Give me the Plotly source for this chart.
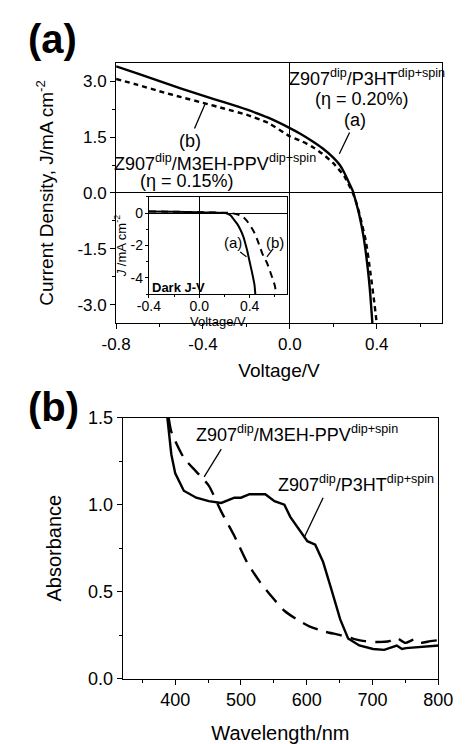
import plotly.graph_objects as go

FONT = "Arial, Liberation Sans, sans-serif"

# ---- Panel (a): J-V under illumination ----
jv_v_a = [-0.8, -0.7, -0.6, -0.5, -0.4, -0.3, -0.2, -0.1, 0.0, 0.05, 0.1, 0.15, 0.2, 0.23, 0.25, 0.27, 0.29, 0.30, 0.32, 0.34, 0.36, 0.37, 0.38]
jv_j_a = [3.40, 3.20, 3.00, 2.80, 2.61, 2.43, 2.24, 2.02, 1.74, 1.58, 1.40, 1.20, 0.95, 0.75, 0.55, 0.30, 0.05, -0.15, -0.6, -1.2, -2.1, -2.7, -3.5]
jv_v_b = [-0.8, -0.7, -0.6, -0.5, -0.4, -0.3, -0.2, -0.1, 0.0, 0.05, 0.1, 0.15, 0.2, 0.25, 0.28, 0.30, 0.32, 0.35, 0.37, 0.39, 0.40]
jv_j_b = [3.06, 2.90, 2.73, 2.57, 2.42, 2.26, 2.10, 1.88, 1.52, 1.40, 1.25, 1.05, 0.80, 0.45, 0.12, -0.15, -0.55, -1.3, -2.1, -3.0, -3.5]

# ---- Inset: dark J-V ----
dk_v_a = [-0.4, -0.2, 0.0, 0.1, 0.2, 0.225, 0.25, 0.275, 0.3, 0.325, 0.35, 0.363, 0.38, 0.4, 0.42, 0.438, 0.445]
dk_j_a = [0.1, 0.08, 0.05, 0.03, 0.0, -0.04, -0.15, -0.4, -0.65, -1.0, -1.45, -1.8, -2.3, -3.0, -3.7, -4.4, -5.0]
dk_v_b = [-0.4, -0.2, 0.0, 0.1, 0.2, 0.25, 0.3, 0.35, 0.38, 0.413, 0.44, 0.463, 0.5, 0.538, 0.575, 0.6, 0.612]
dk_j_b = [0.1, 0.08, 0.05, 0.03, 0.02, 0.0, -0.08, -0.25, -0.5, -0.88, -1.25, -1.68, -2.48, -3.08, -3.88, -4.48, -5.0]

# ---- Panel (b): absorbance ----
wl_p3ht = [388, 394, 400, 413, 432, 451, 470, 490, 500, 513, 528, 537, 551, 566, 575, 590, 601, 613, 625, 637, 651, 663, 680, 701, 718, 737, 745, 751, 770, 785, 801]
ab_p3ht = [1.50, 1.29, 1.18, 1.08, 1.04, 1.02, 1.01, 1.04, 1.04, 1.06, 1.06, 1.06, 1.02, 1.00, 0.93, 0.85, 0.79, 0.77, 0.67, 0.52, 0.34, 0.23, 0.19, 0.17, 0.165, 0.19, 0.17, 0.175, 0.18, 0.185, 0.19]
wl_meh = [390, 394, 413, 432, 451, 470, 490, 509, 528, 547, 566, 585, 604, 627, 651, 670, 689, 707, 726, 736, 750, 764, 773, 788, 800]
ab_meh = [1.50, 1.42, 1.27, 1.19, 1.11, 0.96, 0.82, 0.67, 0.56, 0.47, 0.39, 0.34, 0.30, 0.27, 0.25, 0.23, 0.215, 0.21, 0.215, 0.235, 0.205, 0.225, 0.205, 0.215, 0.22]

x_ticks_a = [-0.8, -0.4, 0.0, 0.4]
y_ticks_a = [-3.0, -1.5, 0.0, 1.5, 3.0]
x_ticks_in = [-0.4, 0.0, 0.4]
y_ticks_in = [-4, -2, 0]
x_ticks_b = [400, 500, 600, 700, 800]
y_ticks_b = [0.0, 0.5, 1.0, 1.5]

W, H = 470, 744
def dx(a, b):
    return [a / W, b / W]
def dy(top, bottom):
    return [1 - bottom / H, 1 - top / H]

fig = go.Figure()
LW = 2.4
fig.add_trace(go.Scatter(x=jv_v_a, y=jv_j_a, mode="lines", line=dict(color="black", width=LW, shape="spline", smoothing=0.6), xaxis="x", yaxis="y", showlegend=False))
fig.add_trace(go.Scatter(x=jv_v_b, y=jv_j_b, mode="lines", line=dict(color="black", width=LW, dash="5px,4px", shape="spline", smoothing=0.6), xaxis="x", yaxis="y", showlegend=False))
fig.add_trace(go.Scatter(x=dk_v_a, y=dk_j_a, mode="lines", line=dict(color="black", width=2, shape="spline", smoothing=0.6), xaxis="x3", yaxis="y3", showlegend=False))
fig.add_trace(go.Scatter(x=dk_v_b, y=dk_j_b, mode="lines", line=dict(color="black", width=2, dash="7px,5px", shape="spline", smoothing=0.6), xaxis="x3", yaxis="y3", showlegend=False))
fig.add_trace(go.Scatter(x=wl_p3ht, y=ab_p3ht, mode="lines", line=dict(color="black", width=LW), xaxis="x2", yaxis="y2", showlegend=False))
fig.add_trace(go.Scatter(x=wl_meh, y=ab_meh, mode="lines", line=dict(color="black", width=LW, dash="16px,9px", shape="spline", smoothing=0.6), xaxis="x2", yaxis="y2", showlegend=False))

def axis(domain, rng, tickvals, fmt, fsize, minor_dtick, anchor, title, tfsize, standoff, zeroline, ticklen=5, minorlen=3, lblstand=0):
    d = dict(
        domain=domain, range=rng, tickvals=tickvals, ticktext=[fmt(v) for v in tickvals],
        tickfont=dict(family=FONT, size=fsize, color="black"),
        ticks="outside", ticklen=ticklen, tickwidth=1, tickcolor="black",
        ticklabelstandoff=lblstand,
        minor=dict(ticks="outside", ticklen=minorlen, dtick=minor_dtick, tick0=0, tickcolor="black", showgrid=False),
        showline=True, linecolor="black", linewidth=1, mirror=True,
        showgrid=False, zeroline=zeroline, zerolinecolor="black", zerolinewidth=1,
        anchor=anchor,
    )
    if title:
        d["title"] = dict(text=title, font=dict(family=FONT, size=tfsize, color="black"), standoff=standoff)
    return d

f1 = lambda v: f"{v:.1f}"
fi = lambda v: f"{v:d}" if isinstance(v, int) else f"{v:.1f}"

layout = dict(
    width=W, height=H, margin=dict(l=0, r=0, t=0, b=0),
    paper_bgcolor="white", plot_bgcolor="white", showlegend=False,
    xaxis=axis(dx(108, 456), [-0.8, 0.7], x_ticks_a, f1, 17, 0.2, "y", "Voltage/V", 19, 10, True),
    yaxis=axis(dy(54, 322), [-3.5, 3.5], y_ticks_a, f1, 17, 0.75, "x", "Current Density, J/mA cm<sup>-2</sup>", 19, 18, True),
    xaxis2=axis(dx(115, 452), [320, 800], x_ticks_b, fi, 18, 50, "y2", "Wavelength/nm", 20, 20, False),
    yaxis2=axis(dy(419, 687), [0, 1.5], y_ticks_b, f1, 18, 0.25, "x2", "Absorbance", 20, 21, False),
    xaxis3=axis(dx(143, 291), [-0.4, 0.7], x_ticks_in, f1, 14, 0.2, "y3", None, 0, 0, True, 3, 2, -4),
    yaxis3=axis(dy(192, 292), [-5, 1], y_ticks_in, fi, 14, 1, "x3", None, 0, 0, True, 3, 2, -1),
)
fig.update_layout(**layout)

def txt(x, y, s, size, xref="x", yref="y", bold=False, xanchor="center", angle=0):
    fig.add_annotation(x=x, y=y, xref=xref, yref=yref, text=(f"<b>{s}</b>" if bold else s), showarrow=False,
                       font=dict(family=FONT, size=size, color="black"), xanchor=xanchor, yanchor="middle",
                       textangle=angle)

def seg(x0, y0, x1, y1, xref, yref, w=1.3):
    fig.add_shape(type="line", x0=x0, y0=y0, x1=x1, y1=y1, xref=xref, yref=yref, line=dict(color="black", width=w))

# panel labels
txt(12 / W, 1 - 30 / H, "(a)", 40, "paper", "paper", bold=True, xanchor="left")
txt(12 / W, 1 - 408 / H, "(b)", 40, "paper", "paper", bold=True, xanchor="left")

# inset axis titles
txt(217 / W, 1 - 320 / H, "Voltage/V", 13, "paper", "paper")
txt(113 / W, 1 - 242 / H, "<i>J</i> /mA cm<sup>-2</sup>", 13, "paper", "paper", angle=-90)

# panel (a) annotations
txt(0.353, 3.09, "Z907<sup>dip</sup>/P3HT<sup>dip+spin</sup>", 18)
txt(0.331, 2.51, "(η = 0.20%)", 18)
txt(0.301, 1.96, "(a)", 18)
seg(0.228, 1.05, 0.275, 1.62, "x", "y")
txt(-0.46, 1.39, "(b)", 18)
seg(-0.439, 1.73, -0.391, 2.38, "x", "y")
txt(-0.344, 0.82, "Z907<sup>dip</sup>/M3EH-PPV<sup>dip+spin</sup>", 18)
txt(-0.473, 0.32, "(η = 0.15%)", 18)

# inset annotations
txt(0.27, -1.8, "(a)", 15, "x3", "y3")
seg(0.325, -2.4, 0.375, -2.7, "x3", "y3", 1.2)
txt(0.6, -1.8, "(b)", 15, "x3", "y3")
seg(0.587, -2.2, 0.537, -2.7, "x3", "y3", 1.2)
txt(-0.39, -4.6, "Dark J-V", 13, "x3", "y3", bold=True, xanchor="left")

# panel (b) annotations
txt(586, 1.41, "Z907<sup>dip</sup>/M3EH-PPV<sup>dip+spin</sup>", 18, "x2", "y2")
seg(444, 1.16, 470, 1.32, "x2", "y2")
txt(675, 1.12, "Z907<sup>dip</sup>/P3HT<sup>dip+spin</sup>", 18, "x2", "y2")
seg(596, 0.81, 625, 1.04, "x2", "y2")

fig.write_html("out.html")
